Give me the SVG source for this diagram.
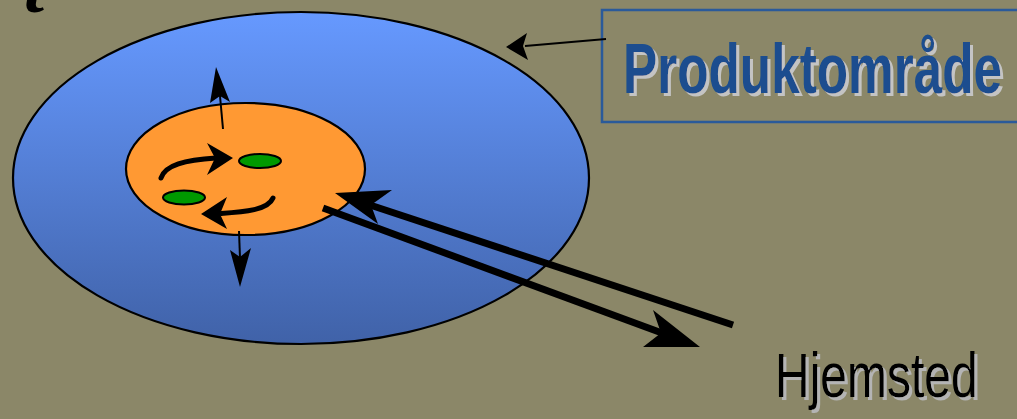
<svg xmlns="http://www.w3.org/2000/svg" width="1017" height="419" viewBox="0 0 1017 419">
<defs>
<linearGradient id="blueGrad" x1="0" y1="0" x2="0" y2="1">
<stop offset="0" stop-color="#6699FF"/>
<stop offset="1" stop-color="#4062A8"/>
</linearGradient>
<filter id="shadowLight" x="-5%" y="-20%" width="110%" height="140%">
<feDropShadow dx="3" dy="2.2" stdDeviation="0" flood-color="#C4C4C4" flood-opacity="1"/>
</filter>
<filter id="shadowGrey" x="-5%" y="-20%" width="110%" height="140%">
<feDropShadow dx="3" dy="2.3" stdDeviation="0" flood-color="#B4B4B4" flood-opacity="1"/>
</filter>
<style>
.outline{stroke:#000;stroke-width:2.2}
.green{fill:#009900;stroke:#000;stroke-width:2}
.head{fill:#000;stroke:none}
.thin{stroke:#000;stroke-width:2;fill:none}
.thick{stroke:#000;stroke-width:7;fill:none}
.curve{stroke:#000;stroke-width:5;fill:none;stroke-linecap:round}
.lbl{font-family:"Liberation Sans",Arial,sans-serif}
</style>
</defs>
<rect x="0" y="0" width="1017" height="419" fill="#8B8768"/>
<text x="24" y="12" font-family="'Liberation Serif',serif" font-weight="bold" font-style="italic" font-size="72" fill="#000">t</text>

<g id="produktomrade-ellipse">
<ellipse cx="301" cy="178" rx="288" ry="166" fill="url(#blueGrad)" class="outline"/>
</g>
<g id="core">
<ellipse cx="245.5" cy="169" rx="119.5" ry="66" fill="#FF9933" class="outline"/>
</g>
<g id="unit1">
<ellipse cx="260" cy="161" rx="21" ry="7" class="green"/>
</g>
<g id="unit2">
<ellipse cx="184" cy="197.5" rx="21" ry="7" class="green"/>
</g>
<g id="label-box">
<path d="M1017,10 H602 V122 H1017" fill="none" stroke="#2A5A9A" stroke-width="2.5"/>
<text class="lbl" transform="translate(623,93) scale(1,1.365)" x="0" y="0" font-size="51.3" font-weight="bold" fill="#1A4E8F" filter="url(#shadowLight)">Produktområde</text>
</g>
<g id="hjemsted">
<text class="lbl" transform="translate(775,397) scale(1,1.31)" x="0" y="0" font-size="48" fill="#000" filter="url(#shadowGrey)">Hjemsted</text>
</g>

<g id="connectors">
<line x1="606" y1="39" x2="525" y2="46" class="thin"/>
<polygon class="head" points="506,47 527,33 523,46 528,60"/>

<line x1="223" y1="129" x2="220" y2="96" class="thin"/>
<polygon class="head" points="216,67 230,102 220,96 210,103"/>

<line x1="239" y1="231" x2="240" y2="258" class="thin"/>
<polygon class="head" points="240,287 230,250 240,257 251,248"/>

<path d="M161,178 C165,165 185,160 216,158" class="curve"/>
<polygon class="head" points="233,158 207,143 215,158 207,175"/>

<path d="M273,198 C268,210 245,212 221,213.5" class="curve"/>
<polygon class="head" points="201,214 227,197 220,214 227,229"/>

<line x1="733" y1="325" x2="370" y2="205" class="thick"/>
<polygon class="head" points="335,193 392,190 371,205 378,224"/>

<line x1="323" y1="208" x2="662" y2="333" class="thick"/>
<polygon class="head" points="700,347 653,310 661,333 643,347"/>
</g>
</svg>
